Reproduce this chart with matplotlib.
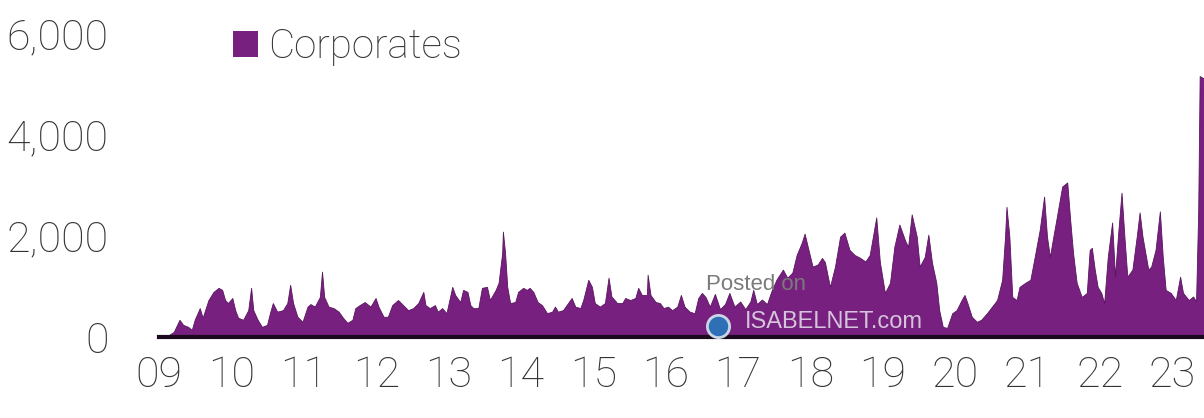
import matplotlib
matplotlib.use("Agg")
import matplotlib.pyplot as plt
from matplotlib.patches import Patch

plt.rcParams['font.family'] = ['Roboto', 'DejaVu Sans']
plt.rcParams['font.weight'] = 'light'

# Corporate flows (weekly readings), by fractional year
years = [
    2009.05, 2009.09, 2009.20, 2009.28, 2009.33, 2009.40, 2009.45, 2009.49, 2009.56, 2009.60,
    2009.68, 2009.75, 2009.82, 2009.87, 2009.91, 2009.95, 2010.01, 2010.05, 2010.09, 2010.16,
    2010.23, 2010.27, 2010.30, 2010.36, 2010.42, 2010.49, 2010.53, 2010.57, 2010.63, 2010.71,
    2010.77, 2010.81, 2010.85, 2010.91, 2010.98, 2011.05, 2011.09, 2011.15, 2011.22, 2011.25,
    2011.28, 2011.34, 2011.41, 2011.48, 2011.54, 2011.60, 2011.67, 2011.71, 2011.77, 2011.84,
    2011.92, 2011.99, 2012.03, 2012.10, 2012.16, 2012.22, 2012.30, 2012.37, 2012.44, 2012.51,
    2012.58, 2012.65, 2012.68, 2012.74, 2012.81, 2012.85, 2012.91, 2012.97, 2013.05, 2013.09,
    2013.16, 2013.20, 2013.26, 2013.30, 2013.34, 2013.41, 2013.46, 2013.53, 2013.57, 2013.65,
    2013.69, 2013.74, 2013.75, 2013.78, 2013.81, 2013.85, 2013.92, 2013.96, 2014.03, 2014.08,
    2014.12, 2014.17, 2014.23, 2014.29, 2014.36, 2014.43, 2014.47, 2014.51, 2014.58, 2014.65,
    2014.70, 2014.75, 2014.82, 2014.86, 2014.93, 2014.98, 2015.02, 2015.09, 2015.16, 2015.21,
    2015.25, 2015.33, 2015.40, 2015.44, 2015.51, 2015.58, 2015.62, 2015.67, 2015.74, 2015.75,
    2015.79, 2015.86, 2015.92, 2015.97, 2016.03, 2016.09, 2016.16, 2016.21, 2016.26, 2016.33,
    2016.40, 2016.45, 2016.50, 2016.55, 2016.61, 2016.68, 2016.75, 2016.82, 2016.88, 2016.95,
    2017.03, 2017.10, 2017.17, 2017.21, 2017.26, 2017.33, 2017.40, 2017.46, 2017.53, 2017.62,
    2017.68, 2017.75, 2017.81, 2017.88, 2017.92, 2017.96, 2018.03, 2018.10, 2018.16, 2018.20,
    2018.27, 2018.34, 2018.41, 2018.47, 2018.54, 2018.61, 2018.69, 2018.76, 2018.82, 2018.91,
    2018.96, 2019.03, 2019.10, 2019.16, 2019.23, 2019.31, 2019.35, 2019.40, 2019.47, 2019.51,
    2019.58, 2019.63, 2019.68, 2019.74, 2019.78, 2019.83, 2019.89, 2019.96, 2020.02, 2020.09,
    2020.13, 2020.17, 2020.23, 2020.30, 2020.36, 2020.44, 2020.51, 2020.58, 2020.65, 2020.69,
    2020.71, 2020.75, 2020.79, 2020.85, 2020.89, 2020.97, 2021.04, 2021.10, 2021.17, 2021.23,
    2021.27, 2021.31, 2021.35, 2021.40, 2021.44, 2021.48, 2021.55, 2021.59, 2021.63, 2021.68,
    2021.75, 2021.82, 2021.86, 2021.89, 2021.93, 2021.97, 2022.02, 2022.06, 2022.11, 2022.17,
    2022.21, 2022.25, 2022.30, 2022.34, 2022.38, 2022.45, 2022.51, 2022.55, 2022.59, 2022.67,
    2022.71, 2022.77, 2022.83, 2022.87, 2022.91, 2022.98, 2023.05, 2023.11, 2023.15, 2023.23,
    2023.29, 2023.33, 2023.36, 2023.38, 2023.44,
]

corporates = [
    0, 0, 100, 340, 240, 200, 140, 340, 570, 380,
    730, 890, 970, 930, 730, 670, 770, 530, 380, 340,
    530, 970, 530, 340, 200, 240, 470, 670, 500, 530,
    670, 1030, 670, 400, 300, 600, 650, 600, 790, 1290,
    790, 600, 570, 500, 380, 280, 340, 570, 630, 690,
    600, 770, 600, 400, 400, 630, 730, 630, 530, 570,
    670, 890, 630, 570, 630, 500, 570, 470, 990, 830,
    690, 930, 890, 630, 570, 570, 970, 990, 730, 930,
    1070, 1660, 2080, 1660, 990, 670, 690, 890, 970, 930,
    970, 890, 690, 630, 470, 500, 600, 500, 530, 670,
    770, 600, 570, 730, 1130, 990, 670, 600, 670, 1170,
    800, 670, 670, 770, 730, 770, 970, 830, 830, 1230,
    830, 690, 670, 570, 600, 530, 600, 830, 600, 500,
    470, 770, 870, 790, 600, 850, 550, 650, 870, 600,
    700, 550, 700, 930, 650, 740, 650, 900, 1130, 1330,
    1170, 1270, 1620, 1860, 2040, 1800, 1390, 1430, 1560, 1480,
    990, 1390, 1980, 2060, 1720, 1620, 1560, 1490, 1620, 2360,
    1480, 870, 1070, 1780, 2220, 1900, 1780, 2420, 1980, 1390,
    1580, 2020, 1470, 1070, 530, 200, 180, 470, 530, 730,
    830, 670, 400, 300, 340, 470, 600, 730, 1130, 1980,
    2570, 1980, 790, 730, 990, 1070, 1130, 1580, 2120, 2770,
    1980, 1580, 1920, 2320, 2650, 2970, 3050, 2320, 1660, 1070,
    790, 870, 1720, 1760, 1330, 990, 870, 670, 1580, 2260,
    1190, 1980, 2850, 1980, 1190, 1330, 1980, 2460, 1980, 1330,
    1390, 1720, 2480, 1580, 930, 870, 730, 1190, 870, 730,
    800, 700, 2500, 5150, 5100,
]

tick_years = list(range(2009, 2024))
tick_labels = ['09', '10', '11', '12', '13', '14', '15', '16', '17', '18',
               '19', '20', '21', '22', '23']
y_ticks = [0, 2000, 4000, 6000]
y_labels = ['0', '2,000', '4,000', '6,000']

purple = '#77207F'
text_col = '#333333'

fig = plt.figure(figsize=(12.04, 4.18), dpi=100)
ax = fig.add_axes([158.5 / 1204, 81 / 418, 1 - 158.5 / 1204, 304 / 418])

ax.fill_between(years, corporates, 0, color=purple, linewidth=0.6,
                edgecolor='#5a1560', label='Corporates')

ax.set_xlim(2008.99, 2023.44)
ax.set_ylim(0, 6000)

ax.set_xticks(tick_years)
ax.set_xticklabels(tick_labels)
ax.set_yticks(y_ticks)
ax.set_yticklabels(y_labels)
ax.tick_params(axis='both', length=0, labelsize=31, colors=text_col)
ax.tick_params(axis='x', pad=13)
ax.tick_params(axis='y', pad=36)

for side in ('top', 'right', 'left'):
    ax.spines[side].set_visible(False)
ax.spines['bottom'].set_color('#1b0a1e')
ax.spines['bottom'].set_linewidth(3.0)
ax.spines['bottom'].set_zorder(5)

handle = Patch(facecolor=purple, edgecolor='none')
ax.legend([handle], ['Corporates'], loc='center left',
          bbox_to_anchor=(0.0713, 0.955), frameon=False, fontsize=29,
          handlelength=0.62, handleheight=0.62, handletextpad=0.25,
          borderpad=0, borderaxespad=0, labelcolor=text_col)

# site watermark
ax.text(0.524, 0.155, 'Posted on', transform=ax.transAxes, fontsize=16,
        color='#7a7a7a', family=['Liberation Sans', 'DejaVu Sans'],
        weight='normal', zorder=6)
ax.text(0.561, 0.03, 'ISABELNET.com', transform=ax.transAxes, fontsize=17,
        color='#d6c3dc', family=['Liberation Sans', 'DejaVu Sans'],
        weight='normal', zorder=6)
ax.plot([0.535], [0.035], 'o', transform=ax.transAxes, markersize=16,
        color='#2f6fb5', markeredgecolor='#c9d6e6', markeredgewidth=2,
        clip_on=False, zorder=6)

fig.savefig('out.png', dpi=100)
